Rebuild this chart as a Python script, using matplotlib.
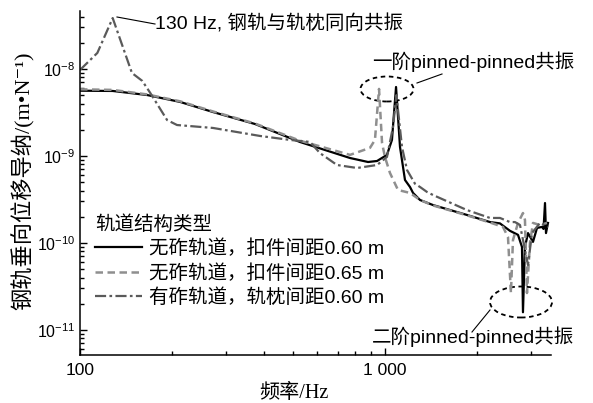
import numpy as np
import matplotlib
matplotlib.use('Agg')
import matplotlib.pyplot as plt
from matplotlib.patches import Ellipse
from matplotlib.lines import Line2D
from matplotlib.font_manager import FontProperties
from matplotlib.ticker import LogLocator, NullFormatter, FixedLocator, FixedFormatter

plt.rcParams['font.family'] = ['Liberation Sans', 'Noto Sans CJK SC', 'DejaVu Sans']
plt.rcParams['mathtext.fontset'] = 'custom'
plt.rcParams['mathtext.rm'] = 'Liberation Sans'
plt.rcParams['mathtext.it'] = 'Liberation Sans'

# data (frequency in Hz, admittance in m/N)
freq_slab_060 = [100, 128, 166, 213, 273, 375, 526, 768, 880, 942, 1015, 1054, 1087,
                 1120, 1163, 1208, 1236, 1303, 1437, 1857, 2210, 2382, 2569, 2730,
                 2813, 2834, 2877, 2944, 3057, 3151, 3272, 3310, 3347, 3372, 3423]
adm_slab_060 = [5.63e-9, 5.59e-9, 5.02e-9, 4.18e-9, 3.20e-9, 2.33e-9, 1.45e-9, 9.48e-10,
                8.53e-10, 8.76e-10, 1.03e-9, 1.53e-9, 6.21e-9, 1.27e-9, 5.3e-10, 4.4e-10,
                3.76e-10, 3.12e-10, 2.73e-10, 2.10e-10, 1.74e-10, 1.68e-10, 1.38e-10,
                1.24e-10, 9.0e-11, 1.6e-11, 9.0e-11, 1.30e-10, 1.03e-10, 1.49e-10,
                1.53e-10, 1.45e-10, 2.88e-10, 1.30e-10, 1.70e-10]

freq_slab_065 = [100, 128, 166, 213, 273, 375, 526, 768, 893, 927, 956, 978, 1000, 1038,
                 1103, 1208, 1303, 1437, 1857, 2210, 2437, 2531, 2588, 2628, 2730, 2834,
                 2877, 2921, 2988, 3057, 3223, 3397]
adm_slab_065 = [5.84e-9, 5.75e-9, 5.1e-9, 4.25e-9, 3.25e-9, 2.36e-9, 1.5e-9, 1.03e-9,
                1.24e-9, 1.53e-9, 5.9e-9, 1.41e-9, 9.7e-10, 6.4e-10, 4.07e-10, 3.76e-10,
                3.12e-10, 2.7e-10, 2.08e-10, 1.72e-10, 1.53e-10, 1.17e-10, 2.66e-11,
                1.08e-10, 1.70e-10, 2.21e-10, 1.84e-10, 2.66e-11, 1.0e-10, 1.70e-10,
                1.61e-10, 1.70e-10]

freq_ballast = [100, 114, 128, 148, 160, 170, 193, 208, 273, 389, 488, 568, 612, 696,
                810, 942, 1015, 1062, 1090, 1137, 1181, 1254, 1303, 1373, 1437, 1857,
                2210, 2382, 2569, 2668, 2771, 2944, 3034, 3223, 3423]
adm_ballast = [9.74e-9, 1.53e-8, 3.85e-8, 9.0e-9, 7.3e-9, 5.3e-9, 2.59e-9, 2.27e-9,
               2.10e-9, 1.70e-9, 1.53e-9, 1.45e-9, 1.08e-9, 7.88e-10, 7.28e-10, 7.88e-10,
               9.74e-10, 2.15e-9, 5.0e-9, 1.27e-9, 6.9e-10, 4.8e-10, 4.4e-10, 3.86e-10,
               3.56e-10, 2.39e-10, 1.94e-10, 1.94e-10, 1.74e-10, 1.74e-10, 1.61e-10,
               5.59e-11, 1.30e-10, 1.70e-10, 1.53e-10]

labels = ['无砟轨道，扣件间距0.60 m', '无砟轨道，扣件间距0.65 m', '有砟轨道，轨枕间距0.60 m']
x_ticks = [100, 1000]
x_tick_labels = ['100', '1 000']
y_ticks = [1e-11, 1e-10, 1e-9, 1e-8]
y_tick_labels = [r'$10^{-11}$', r'$10^{-10}$', r'$10^{-9}$', r'$10^{-8}$']

W, H = 593, 403


def px(x, y):
    # pixel position -> figure fraction
    return x / W, 1 - y / H


sans = ['Liberation Sans', 'Noto Sans CJK SC']
serif = ['Liberation Serif', 'Noto Sans CJK SC', 'DejaVu Serif']

fig = plt.figure(figsize=(W / 100, H / 100), dpi=100)
ax = fig.add_axes([80 / W, 1 - 355 / H, 471 / W, 344 / H])

ax.plot(freq_slab_060, adm_slab_060, color='black', lw=1.6, label=labels[0])
ax.plot(freq_slab_065, adm_slab_065, color='#8f8f8f', lw=1.8, ls=(0, (3, 1.8)), label=labels[1])
ax.plot(freq_ballast, adm_ballast, color='#5a5a5a', lw=1.6, ls=(0, (5, 1.5, 1.2, 1.5)), label=labels[2])

ax.set_xscale('log')
ax.set_yscale('log')
ax.set_xlim(100, 3502)
ax.set_ylim(5.16e-12, 4.64e-8)

ax.xaxis.set_major_locator(FixedLocator(x_ticks))
ax.xaxis.set_major_formatter(FixedFormatter(x_tick_labels))
ax.xaxis.set_minor_locator(LogLocator(base=10, subs=np.arange(2, 10)))
ax.xaxis.set_minor_formatter(NullFormatter())
ax.yaxis.set_major_locator(FixedLocator(y_ticks))
ax.yaxis.set_major_formatter(FixedFormatter(y_tick_labels))
ax.yaxis.set_minor_locator(LogLocator(base=10, subs=np.arange(2, 10)))
ax.yaxis.set_minor_formatter(NullFormatter())

ax.tick_params(which='both', direction='in', width=1.0)
ax.tick_params(which='major', length=5)
ax.tick_params(which='minor', length=3)
ax.tick_params(axis='x', pad=6, labelsize=12.5)
ax.tick_params(axis='y', pad=3.5, labelsize=11.5)

for s in ['top', 'right']:
    ax.spines[s].set_visible(False)
for s in ['left', 'bottom']:
    ax.spines[s].set_linewidth(1.1)

ax.set_xlabel('频率/Hz', fontproperties=FontProperties(family=serif, size=14.5))
ax.xaxis.set_label_coords((294 - 80) / 471, (355 - 393) / 344)
ax.xaxis.label.set_va('center')
ax.set_ylabel('钢轨垂向位移导纳/(m•N⁻¹)', fontproperties=FontProperties(family=serif, size=16))
ax.yaxis.set_label_coords((23 - 80) / 471, (355 - 181) / 344)
ax.yaxis.label.set_va('center')

leg = ax.legend(title='轨道结构类型', loc='upper left',
                bbox_to_anchor=((95 - 80) / 471, (355 - 215) / 344),
                frameon=False, alignment='left', borderpad=0, borderaxespad=0,
                handlelength=2.4, handletextpad=0.4, labelspacing=0.3,
                prop=FontProperties(family=sans, size=14),
                title_fontproperties=FontProperties(family=sans, size=14))

# annotations
tp = FontProperties(family=sans, size=14)
fig.text(*px(155, 24), '130 Hz, 钢轨与轨枕同向共振', fontproperties=tp, ha='left', va='center')
fig.text(*px(372, 62), '一阶pinned-pinned共振', fontproperties=tp, ha='left', va='center')
fig.text(*px(372, 337), '二阶pinned-pinned共振', fontproperties=tp, ha='left', va='center')

for (x0, y0), (x1, y1) in [((117, 17), (155, 24)), ((417, 83), (442, 74)), ((490, 310), (472, 332))]:
    fig.add_artist(Line2D([x0 / W, x1 / W], [1 - y0 / H, 1 - y1 / H], color='black', lw=0.8))

for cx, cy, w, h in [(387, 89, 53, 25), (521, 302, 62, 31)]:
    ax.add_patch(Ellipse(((cx - 80) / 471, (355 - cy) / 344), w / 471, h / 344,
                         transform=ax.transAxes, fill=False, ec='black', lw=1.3,
                         ls=(0, (2.5, 2)), clip_on=False))

fig.savefig('out.png', dpi=100)
